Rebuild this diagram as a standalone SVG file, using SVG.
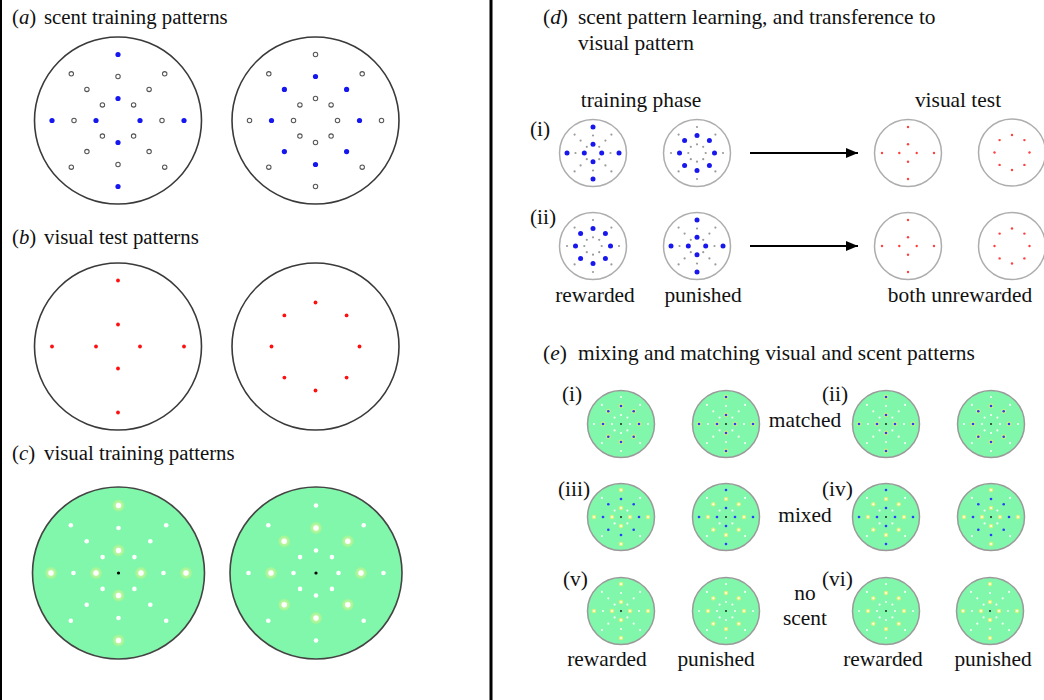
<svg xmlns="http://www.w3.org/2000/svg" width="1044" height="700" viewBox="0 0 1044 700">
<style>
.t{font-family:"Liberation Serif","Times New Roman",serif;font-size:21.4px;fill:#111}
.l{font-size:20.8px}
.i{font-style:italic}
.m{text-anchor:middle}
.plate{fill:#fff;stroke:#3a3a3a;stroke-width:1.6}
.gplate{fill:#80f7aa;stroke:#444;stroke-width:1.6}
.sp{fill:#fff;stroke:#adadad;stroke-width:1.5}
.sg{fill:#80f7aa;stroke:#9a9a9a;stroke-width:1.5}
.aB{marker-start:url(#mAB);marker-mid:url(#mAB);marker-end:url(#mAB)}
.aO{marker-start:url(#mAO);marker-mid:url(#mAO);marker-end:url(#mAO)}
.bR{marker-start:url(#mR);marker-mid:url(#mR);marker-end:url(#mR)}
.cH{marker-start:url(#mCH);marker-mid:url(#mCH);marker-end:url(#mCH)}
.cW{marker-start:url(#mCW);marker-mid:url(#mCW);marker-end:url(#mCW)}
.dB{marker-start:url(#mDB);marker-mid:url(#mDB);marker-end:url(#mDB)}
.dG{marker-start:url(#mDG);marker-mid:url(#mDG);marker-end:url(#mDG)}
.dR{marker-start:url(#mDR);marker-mid:url(#mDR);marker-end:url(#mDR)}
.eW{marker-start:url(#mEW);marker-mid:url(#mEW);marker-end:url(#mEW)}
.eH{marker-start:url(#mEH);marker-mid:url(#mEH);marker-end:url(#mEH)}
.eB{marker-start:url(#mEB);marker-mid:url(#mEB);marker-end:url(#mEB)}
.eBH{marker-start:url(#mEBH);marker-mid:url(#mEBH);marker-end:url(#mEBH)}
.conn{stroke:#000;stroke-width:2;fill:none}
</style>
<defs>
<radialGradient id="glow"><stop offset="0.35" stop-color="#c4f7a0"/><stop offset="1" stop-color="#9af598"/></radialGradient>
<marker id="mAB" markerUnits="userSpaceOnUse" markerWidth="1" markerHeight="1" overflow="visible"><circle r="2.6" fill="#1616ee"/></marker>
<marker id="mAO" markerUnits="userSpaceOnUse" markerWidth="1" markerHeight="1" overflow="visible"><circle r="2.2" fill="#fff" stroke="#555" stroke-width="1.1"/></marker>
<marker id="mR" markerUnits="userSpaceOnUse" markerWidth="1" markerHeight="1" overflow="visible"><circle r="1.9" fill="#ff1010"/></marker>
<marker id="mCH" markerUnits="userSpaceOnUse" markerWidth="1" markerHeight="1" overflow="visible"><circle r="6" fill="url(#glow)"/><circle r="2.7" fill="#fff"/></marker>
<marker id="mCW" markerUnits="userSpaceOnUse" markerWidth="1" markerHeight="1" overflow="visible"><circle r="2.3" fill="#fff"/></marker>
<marker id="mDB" markerUnits="userSpaceOnUse" markerWidth="1" markerHeight="1" overflow="visible"><circle r="2.5" fill="#1818ee"/></marker>
<marker id="mDG" markerUnits="userSpaceOnUse" markerWidth="1" markerHeight="1" overflow="visible"><circle r="1.1" fill="#9a9a9a"/></marker>
<marker id="mDR" markerUnits="userSpaceOnUse" markerWidth="1" markerHeight="1" overflow="visible"><circle r="1.2" fill="#ff4040"/></marker>
<marker id="mEW" markerUnits="userSpaceOnUse" markerWidth="1" markerHeight="1" overflow="visible"><circle r="1.1" fill="#f4fff6"/></marker>
<marker id="mEH" markerUnits="userSpaceOnUse" markerWidth="1" markerHeight="1" overflow="visible"><circle r="2.3" fill="#d8f27e"/><circle r="1" fill="#fff"/></marker>
<marker id="mEB" markerUnits="userSpaceOnUse" markerWidth="1" markerHeight="1" overflow="visible"><circle r="1.3" fill="#2a3cff"/></marker>
<marker id="mEBH" markerUnits="userSpaceOnUse" markerWidth="1" markerHeight="1" overflow="visible"><circle r="2.4" fill="#d0f080"/><circle r="1.3" fill="#2a3cff"/></marker>
<marker id="arr" markerUnits="userSpaceOnUse" markerWidth="12" markerHeight="10" refX="12" refY="5" orient="auto" overflow="visible"><path d="M0,0 L12,5 L0,10 z" fill="#000"/></marker>
<polyline id="pLX" fill="none" stroke="none" points="0,-22 22,0 0,22 -22,0 0,-66 66,0 0,66 -66,0"/>
<polyline id="pLY" fill="none" stroke="none" points="0,-44 44,0 0,44 -44,0 -31.1,-31.1 31.1,-31.1 31.1,31.1 -31.1,31.1"/>
<polyline id="pLZ" fill="none" stroke="none" points="-15.6,-15.6 15.6,-15.6 15.6,15.6 -15.6,15.6 -46.7,-46.7 46.7,-46.7 46.7,46.7 -46.7,46.7"/>
<polyline id="pCX" fill="none" stroke="none" points="0,-22.5 22.5,0 0,22.5 -22.5,0 0,-67.5 67.5,0 0,67.5 -67.5,0"/>
<polyline id="pCY" fill="none" stroke="none" points="0,-45 45,0 0,45 -45,0 -31.8,-31.8 31.8,-31.8 31.8,31.8 -31.8,31.8"/>
<polyline id="pCZ" fill="none" stroke="none" points="-15.9,-15.9 15.9,-15.9 15.9,15.9 -15.9,15.9 -47.7,-47.7 47.7,-47.7 47.7,47.7 -47.7,47.7"/>
<polyline id="pDX" fill="none" stroke="none" points="0,-8.7 8.7,0 0,8.7 -8.7,0 0,-26 26,0 0,26 -26,0"/>
<polyline id="pDY" fill="none" stroke="none" points="0,-17.5 17.5,0 0,17.5 -17.5,0 -12.4,-12.4 12.4,-12.4 12.4,12.4 -12.4,12.4"/>
<polyline id="pDZ" fill="none" stroke="none" points="-6.2,-6.2 6.2,-6.2 6.2,6.2 -6.2,6.2 -18.4,-18.4 18.4,-18.4 18.4,18.4 -18.4,18.4"/>
<polyline id="pEX" fill="none" stroke="none" points="0,-9 9,0 0,9 -9,0 0,-27 27,0 0,27 -27,0"/>
<polyline id="pEY" fill="none" stroke="none" points="0,-18 18,0 0,18 -18,0 -12.7,-12.7 12.7,-12.7 12.7,12.7 -12.7,12.7"/>
<polyline id="pEZ" fill="none" stroke="none" points="-6.4,-6.4 6.4,-6.4 6.4,6.4 -6.4,6.4 -19.1,-19.1 19.1,-19.1 19.1,19.1 -19.1,19.1"/>
</defs>

<rect width="1044" height="700" fill="#fff"/>
<g id="frame">
<line x1="1" y1="0" x2="1" y2="700" stroke="#000" stroke-width="2"/>
<line x1="491" y1="0" x2="491" y2="700" stroke="#000" stroke-width="3"/>
</g>

<g id="labels">
<text class="t l" x="12" y="24">(<tspan class="i">a</tspan>)<tspan x="44">scent training patterns</tspan></text>
<text class="t l" x="12" y="244">(<tspan class="i">b</tspan>)<tspan x="44">visual test patterns</tspan></text>
<text class="t l" x="12" y="460">(<tspan class="i">c</tspan>)<tspan x="44">visual training patterns</tspan></text>
<text class="t" x="543" y="24">(<tspan class="i">d</tspan>)<tspan x="578">scent pattern learning, and transference to</tspan></text>
<text class="t" x="578" y="50">visual pattern</text>
<text class="t m" x="641" y="107">training phase</text>
<text class="t m" x="958" y="107">visual test</text>
<text class="t" x="530" y="136">(i)</text>
<text class="t" x="530" y="224">(ii)</text>
<text class="t m" x="595" y="302">rewarded</text>
<text class="t m" x="703" y="302">punished</text>
<text class="t m" x="960" y="302">both unrewarded</text>
<text class="t" x="543" y="360">(<tspan class="i">e</tspan>)<tspan x="578">mixing and matching visual and scent patterns</tspan></text>
<text class="t" x="562" y="401">(i)</text>
<text class="t" x="822" y="401">(ii)</text>
<text class="t m" x="805" y="427">matched</text>
<text class="t" x="558" y="496">(iii)</text>
<text class="t" x="822" y="496">(iv)</text>
<text class="t m" x="805" y="522">mixed</text>
<text class="t" x="563" y="586">(v)</text>
<text class="t" x="822" y="586">(vi)</text>
<text class="t m" x="805" y="600">no</text>
<text class="t m" x="805" y="625">scent</text>
<text class="t m" x="607" y="666">rewarded</text>
<text class="t m" x="716" y="666">punished</text>
<text class="t m" x="883" y="666">rewarded</text>
<text class="t m" x="993" y="666">punished</text>
</g>

<g id="a-left"><circle class="plate" cx="118" cy="120.5" r="83.5"/>
<use href="#pLX" x="118" y="120.5" class="aB"/><use href="#pLY" x="118" y="120.5" class="aO"/><use href="#pLZ" x="118" y="120.5" class="aO"/></g>
<g id="a-right"><circle class="plate" cx="315.5" cy="120.5" r="83.5"/>
<use href="#pLY" x="315.5" y="120.5" class="aB"/><use href="#pLX" x="315.5" y="120.5" class="aO"/><use href="#pLZ" x="315.5" y="120.5" class="aO"/></g>

<g id="b-left"><circle class="plate" cx="118" cy="346.5" r="83.5"/>
<use href="#pLX" x="118" y="346.5" class="bR"/></g>
<g id="b-right"><circle class="plate" cx="315.5" cy="346.5" r="83.5"/>
<use href="#pLY" x="315.5" y="346.5" class="bR"/></g>

<g id="c-left"><circle class="gplate" cx="118.5" cy="573" r="86"/>
<use href="#pCX" x="118.5" y="573" class="cH"/><use href="#pCY" x="118.5" y="573" class="cW"/><use href="#pCZ" x="118.5" y="573" class="cW"/>
<circle cx="118.5" cy="573" r="1.6" fill="#000"/></g>
<g id="c-right"><circle class="gplate" cx="316" cy="573" r="86"/>
<use href="#pCY" x="316" y="573" class="cH"/><use href="#pCX" x="316" y="573" class="cW"/><use href="#pCZ" x="316" y="573" class="cW"/>
<circle cx="316" cy="573" r="1.6" fill="#000"/></g>

<g id="d-i-rewarded"><circle class="sp" cx="593" cy="153" r="33.5"/>
<use href="#pDX" x="593" y="153" class="dB"/><use href="#pDY" x="593" y="153" class="dG"/><use href="#pDZ" x="593" y="153" class="dG"/></g>
<g id="d-i-punished"><circle class="sp" cx="697" cy="153" r="33.5"/>
<use href="#pDY" x="697" y="153" class="dB"/><use href="#pDX" x="697" y="153" class="dG"/><use href="#pDZ" x="697" y="153" class="dG"/></g>
<g id="d-ii-rewarded"><circle class="sp" cx="593" cy="246" r="33.5"/>
<use href="#pDY" x="593" y="246" class="dB"/><use href="#pDX" x="593" y="246" class="dG"/><use href="#pDZ" x="593" y="246" class="dG"/></g>
<g id="d-ii-punished"><circle class="sp" cx="697" cy="246" r="33.5"/>
<use href="#pDX" x="697" y="246" class="dB"/><use href="#pDY" x="697" y="246" class="dG"/><use href="#pDZ" x="697" y="246" class="dG"/></g>
<g id="d-i-test-cross"><circle class="sp" cx="908" cy="153" r="33.5"/><use href="#pDX" x="908" y="153" class="dR"/></g>
<g id="d-i-test-ring"><circle class="sp" cx="1012" cy="152.5" r="33.5"/><use href="#pDY" x="1012" y="152.5" class="dR"/></g>
<g id="d-ii-test-cross"><circle class="sp" cx="908" cy="246" r="33.5"/><use href="#pDX" x="908" y="246" class="dR"/></g>
<g id="d-ii-test-ring"><circle class="sp" cx="1012" cy="246" r="33.5"/><use href="#pDY" x="1012" y="246" class="dR"/></g>

<g id="connectors">
<line class="conn" x1="750" y1="153" x2="858" y2="153" marker-end="url(#arr)"/>
<line class="conn" x1="750" y1="246" x2="858" y2="246" marker-end="url(#arr)"/>
</g>

<g id="e-i-rewarded"><circle class="sg" cx="621" cy="424" r="33.5"/>
<use href="#pEY" x="621" y="424" class="eBH"/><use href="#pEX" x="621" y="424" class="eW"/><use href="#pEZ" x="621" y="424" class="eW"/><circle cx="621" cy="424" r="0.9" fill="#111"/></g>
<g id="e-i-punished"><circle class="sg" cx="726" cy="424" r="33.5"/>
<use href="#pEX" x="726" y="424" class="eBH"/><use href="#pEY" x="726" y="424" class="eW"/><use href="#pEZ" x="726" y="424" class="eW"/><circle cx="726" cy="424" r="0.9" fill="#111"/></g>
<g id="e-ii-rewarded"><circle class="sg" cx="886" cy="424" r="33.5"/>
<use href="#pEX" x="886" y="424" class="eBH"/><use href="#pEY" x="886" y="424" class="eW"/><use href="#pEZ" x="886" y="424" class="eW"/><circle cx="886" cy="424" r="0.9" fill="#111"/></g>
<g id="e-ii-punished"><circle class="sg" cx="991" cy="424" r="33.5"/>
<use href="#pEY" x="991" y="424" class="eBH"/><use href="#pEX" x="991" y="424" class="eW"/><use href="#pEZ" x="991" y="424" class="eW"/><circle cx="991" cy="424" r="0.9" fill="#111"/></g>

<g id="e-iii-rewarded"><circle class="sg" cx="621" cy="517" r="33.5"/>
<use href="#pEX" x="621" y="517" class="eH"/><use href="#pEY" x="621" y="517" class="eB"/><use href="#pEZ" x="621" y="517" class="eW"/><circle cx="621" cy="517" r="0.9" fill="#111"/></g>
<g id="e-iii-punished"><circle class="sg" cx="726" cy="517" r="33.5"/>
<use href="#pEY" x="726" y="517" class="eH"/><use href="#pEX" x="726" y="517" class="eB"/><use href="#pEZ" x="726" y="517" class="eW"/><circle cx="726" cy="517" r="0.9" fill="#111"/></g>
<g id="e-iv-rewarded"><circle class="sg" cx="886" cy="517" r="33.5"/>
<use href="#pEY" x="886" y="517" class="eH"/><use href="#pEX" x="886" y="517" class="eB"/><use href="#pEZ" x="886" y="517" class="eW"/><circle cx="886" cy="517" r="0.9" fill="#111"/></g>
<g id="e-iv-punished"><circle class="sg" cx="991" cy="517" r="33.5"/>
<use href="#pEX" x="991" y="517" class="eH"/><use href="#pEY" x="991" y="517" class="eB"/><use href="#pEZ" x="991" y="517" class="eW"/><circle cx="991" cy="517" r="0.9" fill="#111"/></g>

<g id="e-v-rewarded"><circle class="sg" cx="621" cy="611" r="33.5"/>
<use href="#pEX" x="621" y="611" class="eH"/><use href="#pEY" x="621" y="611" class="eW"/><use href="#pEZ" x="621" y="611" class="eW"/><circle cx="621" cy="611" r="0.9" fill="#111"/></g>
<g id="e-v-punished"><circle class="sg" cx="726" cy="611" r="33.5"/>
<use href="#pEY" x="726" y="611" class="eH"/><use href="#pEX" x="726" y="611" class="eW"/><use href="#pEZ" x="726" y="611" class="eW"/><circle cx="726" cy="611" r="0.9" fill="#111"/></g>
<g id="e-vi-rewarded"><circle class="sg" cx="886" cy="611" r="33.5"/>
<use href="#pEY" x="886" y="611" class="eH"/><use href="#pEX" x="886" y="611" class="eW"/><use href="#pEZ" x="886" y="611" class="eW"/><circle cx="886" cy="611" r="0.9" fill="#111"/></g>
<g id="e-vi-punished"><circle class="sg" cx="990" cy="611" r="33.5"/>
<use href="#pEX" x="990" y="611" class="eH"/><use href="#pEY" x="990" y="611" class="eW"/><use href="#pEZ" x="990" y="611" class="eW"/><circle cx="990" cy="611" r="0.9" fill="#111"/></g>
</svg>
